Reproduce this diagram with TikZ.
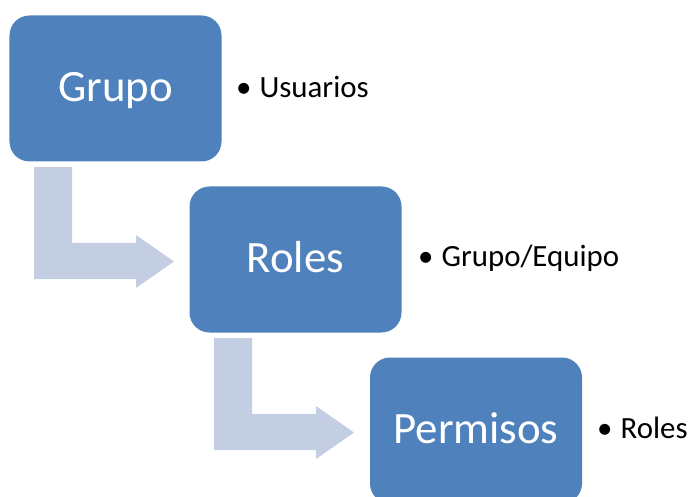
\documentclass[tikz,border=0pt]{standalone}
\usepackage{fontspec}
\setmainfont{Carlito}
\definecolor{boxblue}{RGB}{79,129,189}
\definecolor{arrowtint}{RGB}{196,206,227}
\begin{document}
\begin{tikzpicture}[x=1bp,y=-1bp,
  stagebox/.style={fill=boxblue, draw=none, rounded corners=20bp,
    minimum width=212bp, minimum height=146bp, inner sep=0pt,
    text=white, font=\fontsize{45}{50}\selectfont, text height=26bp, text depth=0pt},
  bullettext/.style={anchor=base west, inner sep=0pt, text=black, font=\fontsize{31}{36}\selectfont},
  bendarrow/.pic={
    \fill[arrowtint] (0,0) -- (38,0) -- (38,76) -- (102,76) -- (102,68) -- (140,94.5)
      -- (102,121) -- (102,112) -- (0,112) -- cycle;
  }]
\useasboundingbox (0,0) rectangle (688,497);
\node[stagebox] (grupo) at (115.5,88.5) {Grupo};
\node[stagebox] (roles) at (295.5,259.5) {Roles};
\node[stagebox] (permisos) at (476,430.5) {Permisos};
\pic (a1) at (34,167) {bendarrow};
\pic (a2) at (214,338) {bendarrow};
\node[bullettext] (t1) at (236,98) {•\hspace{0.26em}Usuarios};
\node[bullettext] (t2) at (418,267) {•\hspace{0.26em}Grupo/Equipo};
\node[bullettext] (t3) at (597,438) {•\hspace{0.26em}Roles};
\end{tikzpicture}
\end{document}
